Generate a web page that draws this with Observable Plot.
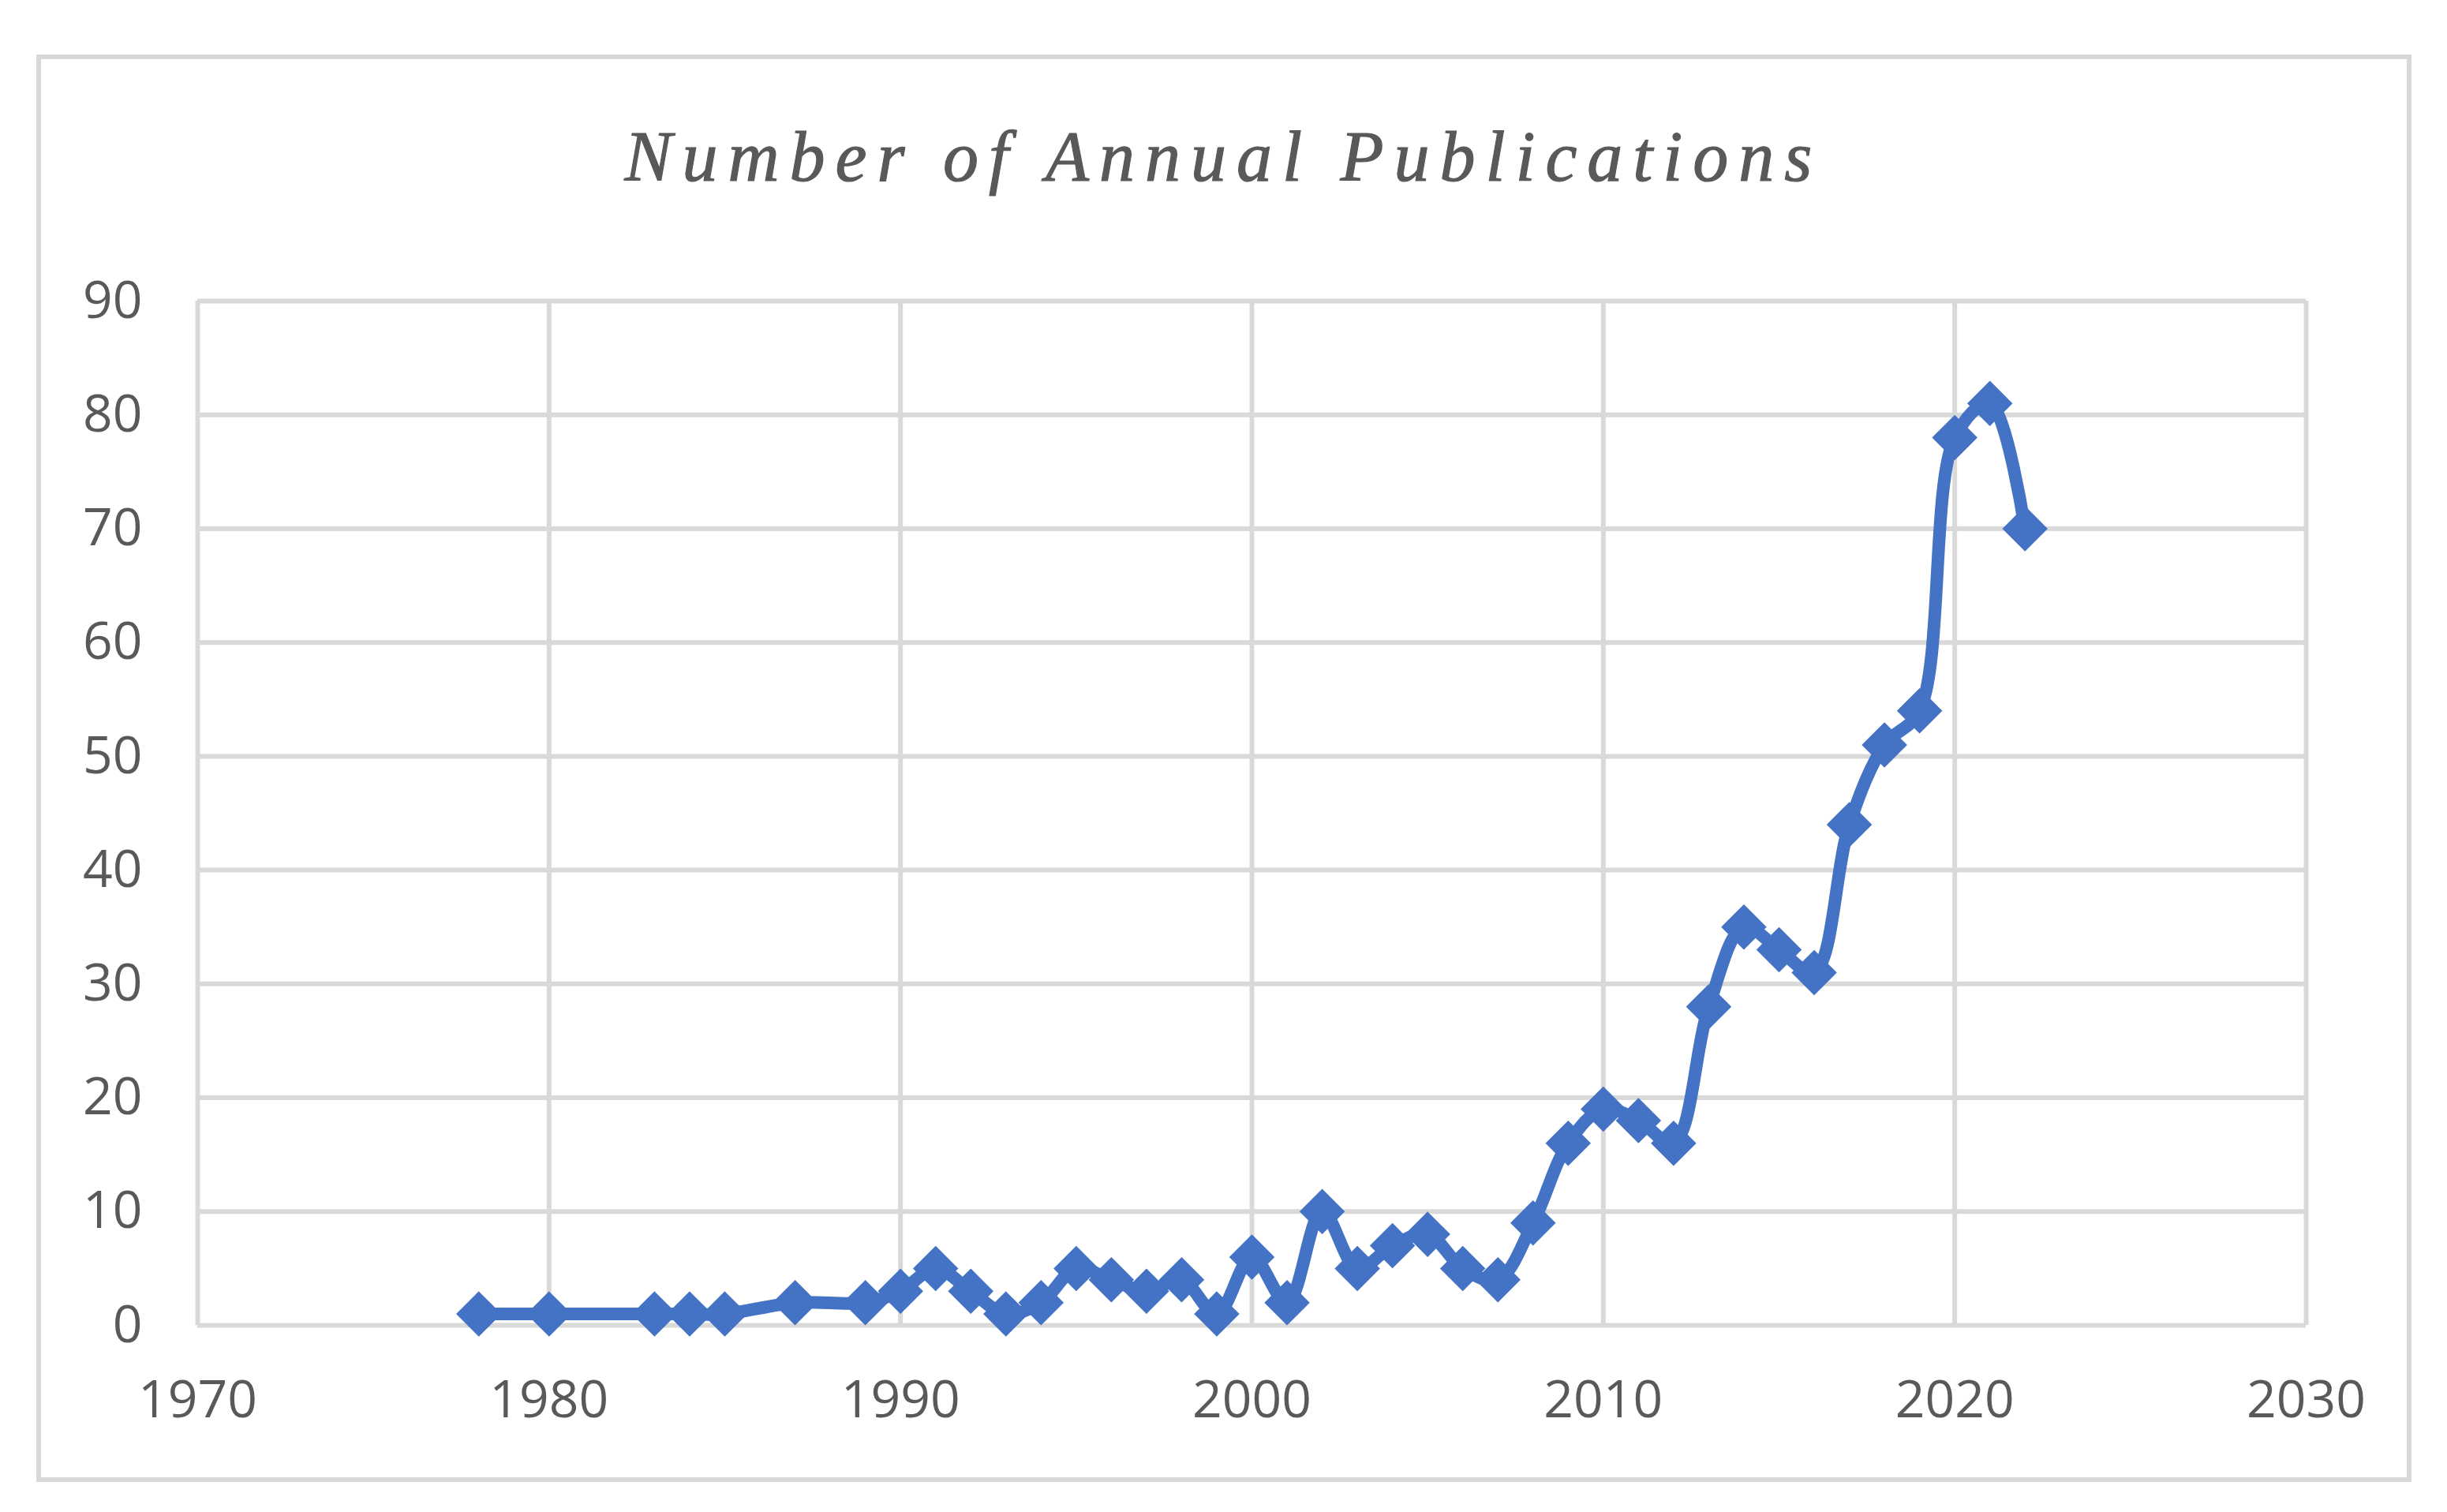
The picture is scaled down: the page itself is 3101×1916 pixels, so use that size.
<!DOCTYPE html>
<html>
<head>
<meta charset="utf-8">
<script src="https://cdn.jsdelivr.net/npm/d3@7"></script>
<script src="https://cdn.jsdelivr.net/npm/@observablehq/plot@0.6"></script>
<style>
  html, body { margin: 0; padding: 0; background: #fff; }
  #wrap { position: relative; width: 3101px; height: 1916px; overflow: hidden; }
  #frame { position: absolute; left: 46px; top: 69px; width: 2998px; height: 1797px;
           border: 6px solid #d9d9d9; pointer-events: none; }
  #title { position: absolute; left: 0; width: 3101px; top: 154px; text-align: center;
           font-family: "Liberation Serif", serif; font-style: italic; font-size: 90px;
           letter-spacing: 13px; color: #595959; line-height: 1;
           -webkit-text-stroke: 1.2px #595959; }
  #chart { position: absolute; left: 0; top: 0; }
</style>
</head>
<body>
<div id="wrap">
  <div id="chart"></div>
  <div id="frame"></div>
  <div id="title">Number of Annual Publications</div>
</div>
<script>
const years = [1978, 1980, 1983, 1984, 1985, 1987, 1989, 1990, 1991, 1992, 1993, 1994, 1995, 1996, 1997, 1998, 1999, 2000, 2001, 2002, 2003, 2004, 2005, 2006, 2007, 2008, 2009, 2010, 2011, 2012, 2013, 2014, 2015, 2016, 2017, 2018, 2019, 2020, 2021, 2022];
const publications = [1, 1, 1, 1, 1, 2, 2, 3, 5, 3, 1, 2, 5, 4, 3, 4, 1, 6, 2, 10, 5, 7, 8, 5, 4, 9, 16, 19, 18, 16, 28, 35, 33, 31, 44, 51, 54, 78, 81, 70];
const xTicks = [1970, 1980, 1990, 2000, 2010, 2020, 2030];
const yTicks = [0, 10, 20, 30, 40, 50, 60, 70, 80, 90];

const data = years.map((y, i) => ({year: y, count: publications[i]}));
const blue = "#4472c4";
const grid = "#d9d9d9";
const textColor = "#595959";

const chart = Plot.plot({
  width: 3101,
  height: 1916,
  marginTop: 381,
  marginBottom: 237,
  marginLeft: 250,
  marginRight: 179,
  style: {fontFamily: "'Open Sans', sans-serif", background: "transparent", overflow: "visible"},
  x: {domain: [1970, 2030], ticks: xTicks, tickFormat: d => String(d)},
  y: {domain: [0, 90], ticks: yTicks},
  marks: [
    Plot.gridX(xTicks, {stroke: grid, strokeOpacity: 1, strokeWidth: 6}),
    Plot.gridY(yTicks, {stroke: grid, strokeOpacity: 1, strokeWidth: 6}),
    Plot.axisX(xTicks, {tickSize: 0, tickPadding: 70, fontSize: 66, fill: textColor, label: null, tickFormat: d => String(d)}),
    Plot.axisY(yTicks, {tickSize: 0, tickPadding: 70, fontSize: 66, fill: textColor, label: null}),
    Plot.line(data, {x: "year", y: "count", stroke: blue, strokeWidth: 16, curve: "catmull-rom", strokeLinejoin: "round"}),
    Plot.dot(data, {x: "year", y: "count", symbol: "diamond2", r: 24, fill: blue, stroke: blue, strokeWidth: 3})
  ]
});
document.getElementById("chart").appendChild(chart);
</script>
</body>
</html>
